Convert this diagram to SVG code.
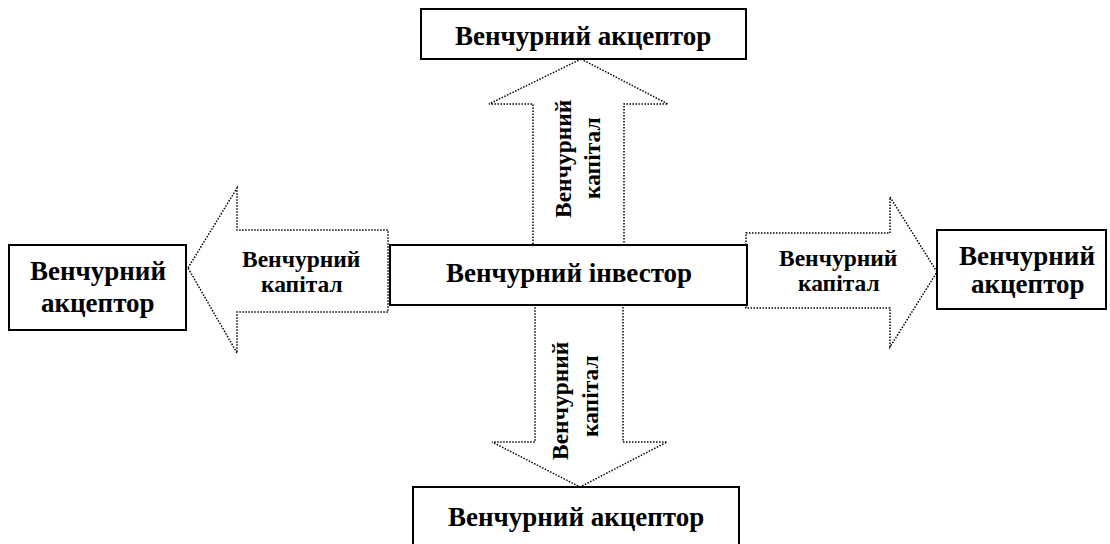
<svg xmlns="http://www.w3.org/2000/svg" width="1110" height="544" viewBox="0 0 1110 544">
<rect width="1110" height="544" fill="#fff"/>
<g id="connectors" fill="#fff" stroke="#000" stroke-width="1.5" stroke-dasharray="1.5 1.5">
<polygon id="arrow-up" points="581,59 668,104 624,104 624,245 533,245 533,104 489,104"/>
<polygon id="arrow-left" points="188,268 237,188 237,230 388,230 388,312 237,312 237,353"/>
<polygon id="arrow-right" points="746,233 890,233 890,197 937,272 890,347 890,308 746,308"/>
<polygon id="arrow-down" points="535,305 623,305 623,442 667,442 580,487 492,442 535,442"/>
</g>
<g id="connector-labels">
<text font-family="Liberation Serif" font-weight="bold" font-size="23.5" transform="translate(571,218) rotate(-90)">Венчурний</text>
<text font-family="Liberation Serif" font-weight="bold" font-size="23.5" transform="translate(600,199) rotate(-90)">капітал</text>
<text font-family="Liberation Serif" font-weight="bold" font-size="23.5" x="242" y="267">Венчурний</text>
<text font-family="Liberation Serif" font-weight="bold" font-size="23.5" x="261" y="292">капітал</text>
<text font-family="Liberation Serif" font-weight="bold" font-size="23.5" x="779" y="266">Венчурний</text>
<text font-family="Liberation Serif" font-weight="bold" font-size="23.5" x="798" y="291">капітал</text>
<text font-family="Liberation Serif" font-weight="bold" font-size="23.5" transform="translate(568,460) rotate(-90)">Венчурний</text>
<text font-family="Liberation Serif" font-weight="bold" font-size="23.5" transform="translate(598,437) rotate(-90)">капітал</text>
</g>
<g id="investor">
<rect x="390" y="245" width="357" height="60" fill="#fff" stroke="#000" stroke-width="2"/>
<text font-family="Liberation Serif" font-weight="bold" font-size="27" x="446" y="282">Венчурний інвестор</text>
</g>
<g id="acceptor-top">
<rect x="421" y="9" width="325" height="50" fill="#fff" stroke="#000" stroke-width="2"/>
<text font-family="Liberation Serif" font-weight="bold" font-size="27" x="455" y="45">Венчурний акцептор</text>
</g>
<g id="acceptor-left">
<rect x="9" y="245" width="177" height="85" fill="#fff" stroke="#000" stroke-width="2"/>
<text font-family="Liberation Serif" font-weight="bold" font-size="27" x="30" y="280">Венчурний</text>
<text font-family="Liberation Serif" font-weight="bold" font-size="27" x="41" y="312">акцептор</text>
</g>
<g id="acceptor-right">
<rect x="937" y="230" width="169" height="79" fill="#fff" stroke="#000" stroke-width="2"/>
<text font-family="Liberation Serif" font-weight="bold" font-size="27" x="959" y="265">Венчурний</text>
<text font-family="Liberation Serif" font-weight="bold" font-size="27" x="971" y="293">акцептор</text>
</g>
<g id="acceptor-bottom">
<rect x="413" y="487" width="326" height="70" fill="#fff" stroke="#000" stroke-width="2"/>
<text font-family="Liberation Serif" font-weight="bold" font-size="27" x="448" y="526">Венчурний акцептор</text>
</g>
</svg>
